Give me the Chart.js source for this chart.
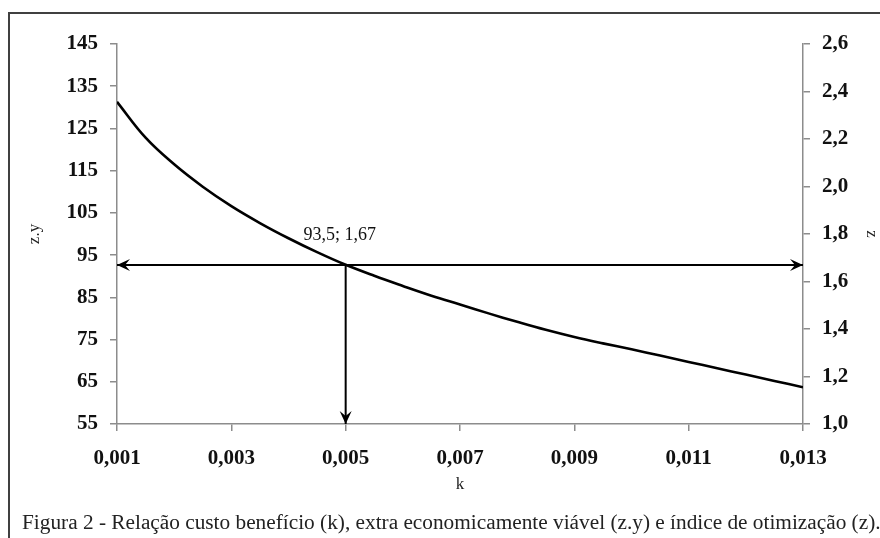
<!DOCTYPE html>
<html>
<head>
<meta charset="utf-8">
<script src="https://cdn.jsdelivr.net/npm/chart.js@4.4.1/dist/chart.umd.min.js"></script>
<style>
  html, body { margin: 0; padding: 0; background: #fff; }
  #wrap { position: relative; width: 880px; height: 538px; overflow: hidden; }
  #frame { position: absolute; left: 8px; top: 12px; width: 900px; height: 600px;
           border-left: 2px solid #404040; border-top: 2px solid #404040; box-sizing: border-box; }
  #c { position: absolute; left: 0; top: 0; }
  #caption { position: absolute; left: 22px; top: 509px; white-space: nowrap; line-height: 26px;
             font-family: "Liberation Serif", "DejaVu Serif", serif; font-size: 21.3px; color: #222; }
</style>
</head>
<body>
<div id="wrap">
  <div id="frame"></div>
  <canvas id="c" width="880" height="538"></canvas>
  <div id="caption">Figura 2 - Relação custo benefício (k), extra economicamente viável (z.y) e índice de otimização (z).</div>
</div>
<script>
// ---- data ----
const kValues  = [0.001, 0.0015, 0.002, 0.0025, 0.003, 0.0035, 0.004, 0.0045, 0.005, 0.0055, 0.006, 0.0065, 0.007,
                  0.0075, 0.008, 0.0085, 0.009, 0.0095, 0.010, 0.0105, 0.011, 0.0115, 0.012, 0.0125, 0.013];
const zyValues = [131.3, 122.8, 116.5, 111.2, 106.6, 102.6, 99.0, 95.7, 92.7, 90.1, 87.7, 85.4, 83.3,
                  81.2, 79.2, 77.3, 75.6, 74.1, 72.7, 71.2, 69.7, 68.2, 66.7, 65.2, 63.7];
const xTicks   = [0.001, 0.003, 0.005, 0.007, 0.009, 0.011, 0.013];
const yTicks   = [55, 65, 75, 85, 95, 105, 115, 125, 135, 145];
const y2Ticks  = [1.0, 1.2, 1.4, 1.6, 1.8, 2.0, 2.2, 2.4, 2.6];
const optK     = 0.005;   // optimum k
const optZ     = 1.67;    // optimum z (right axis)
const optZY    = 93.5;    // label value z.y
const zMin     = 1.0;

const serif = '"Liberation Serif", "DejaVu Serif", serif';
const comma = (v, d) => v.toFixed(d).replace('.', ',');

const arrowPlugin = {
  id: 'arrows',
  afterDatasetsDraw(chart) {
    const ctx = chart.ctx;
    chart.data.datasets.forEach((ds, i) => {
      if (!ds.arrows) return;
      const pts = chart.getDatasetMeta(i).data;
      const draw = (tip, from) => {
        const ang = Math.atan2(tip.y - from.y, tip.x - from.x);
        const L = 13, W = 6, back = 8;
        ctx.save();
        ctx.translate(tip.x, tip.y);
        ctx.rotate(ang);
        ctx.fillStyle = '#000';
        ctx.beginPath();
        ctx.moveTo(0, 0);
        ctx.lineTo(-L, -W);
        ctx.lineTo(-back, 0);
        ctx.lineTo(-L, W);
        ctx.closePath();
        ctx.fill();
        ctx.restore();
      };
      const a = pts[0], b = pts[pts.length - 1];
      if (ds.arrows.includes('start')) draw(a, b);
      if (ds.arrows.includes('end')) draw(b, a);
    });
    // label of the optimum
    const xs = chart.scales.x, ys = chart.scales.y2;
    const px = xs.getPixelForValue(optK), py = ys.getPixelForValue(optZ);
    ctx.save();
    ctx.font = '18px ' + serif;
    ctx.fillStyle = '#111';
    ctx.textAlign = 'center';
    ctx.textBaseline = 'middle';
    ctx.fillText(comma(optZY, 1) + '; ' + comma(optZ, 2), px - 6, py - 30);
    ctx.restore();
  }
};

const axisCommon = {
  grid: { drawOnChartArea: false, color: '#8c8c8c', tickLength: 7, lineWidth: 1.5 },
  border: { color: '#8c8c8c', width: 1.5 },
};

new Chart(document.getElementById('c'), {
  type: 'scatter',
  data: {
    datasets: [
      {
        label: 'z.y',
        data: kValues.map((k, i) => ({ x: k, y: zyValues[i] })),
        yAxisID: 'y',
        showLine: true,
        borderColor: '#000',
        borderWidth: 2.6,
        pointRadius: 0,
        tension: 0.4
      },
      {
        label: 'h',
        data: [{ x: xTicks[0], y: optZ }, { x: xTicks[xTicks.length - 1], y: optZ }],
        yAxisID: 'y2',
        showLine: true,
        borderColor: '#000',
        borderWidth: 2,
        pointRadius: 0,
        arrows: ['start', 'end']
      },
      {
        label: 'v',
        data: [{ x: optK, y: optZ }, { x: optK, y: zMin }],
        yAxisID: 'y2',
        showLine: true,
        borderColor: '#000',
        borderWidth: 2,
        pointRadius: 0,
        arrows: ['end']
      }
    ]
  },
  options: {
    responsive: false,
    animation: false,
    events: [],
    layout: { padding: { top: 44, left: 0, right: 0, bottom: 0 } },
    plugins: { legend: { display: false }, tooltip: { enabled: false } },
    scales: {
      x: {
        type: 'linear',
        min: xTicks[0], max: xTicks[xTicks.length - 1],
        afterBuildTicks: s => { s.ticks = xTicks.map(v => ({ value: v })); },
        afterFit: s => { s.height = 114; },
        ticks: { font: { family: serif, size: 21, weight: 'bold' }, color: '#111', padding: 15, maxRotation: 0,
                 callback: v => comma(v, 3) },
        title: { display: true, text: 'k', font: { family: serif, size: 17 }, color: '#222',
                 padding: { top: 0, bottom: 43 } },
        ...axisCommon
      },
      y: {
        position: 'left',
        min: yTicks[0], max: yTicks[yTicks.length - 1],
        afterBuildTicks: s => { s.ticks = yTicks.map(v => ({ value: v })); },
        afterFit: s => { s.width = 117; },
        ticks: { font: { family: serif, size: 21, weight: 'bold' }, color: '#111', padding: 12,
                 callback: v => String(v) },
        title: { display: true, text: 'z.y', font: { family: serif, size: 17 }, color: '#222',
                 padding: { top: 24, bottom: 0 } },
        ...axisCommon
      },
      y2: {
        position: 'right',
        display: true,
        min: y2Ticks[0], max: y2Ticks[y2Ticks.length - 1],
        afterBuildTicks: s => { s.ticks = y2Ticks.map(v => ({ value: v })); },
        afterFit: s => { s.width = 77; },
        ticks: { font: { family: serif, size: 21, weight: 'bold' }, color: '#111', padding: 12,
                 callback: v => comma(v, 1) },
        title: { display: true, text: 'z', font: { family: serif, size: 17 }, color: '#222',
                 padding: { top: -2, bottom: 0 } },
        ...axisCommon
      }
    }
  },
  plugins: [arrowPlugin]
});
</script>
</body>
</html>
